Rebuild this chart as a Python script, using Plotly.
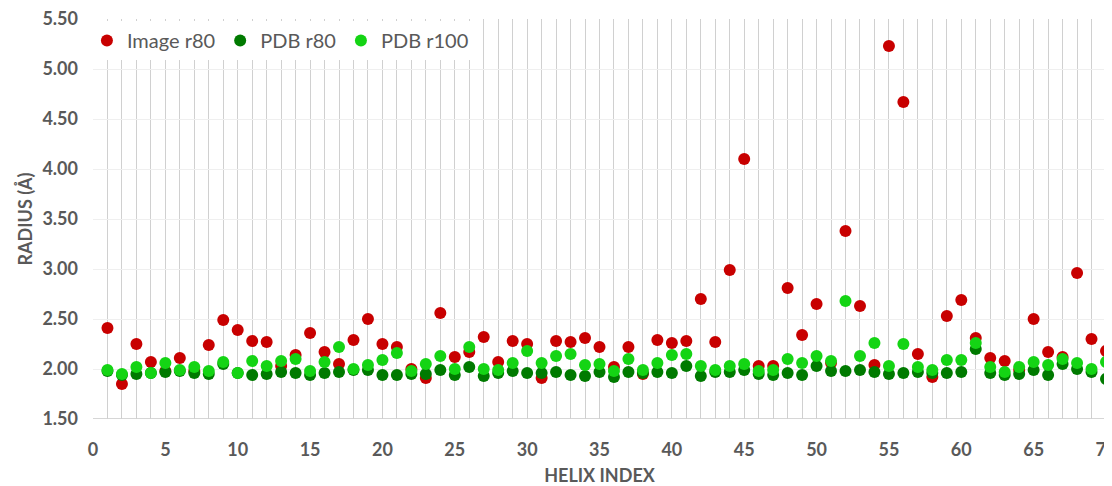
import plotly.graph_objects as go

helix_index = list(range(1, 71))

image_r80 = [2.41, 1.85, 2.25, 2.07, 1.98, 2.11, 1.98, 2.24, 2.49, 2.39,
             2.28, 2.27, 2.03, 2.14, 2.36, 2.17, 2.05, 2.29, 2.50, 2.25,
             2.22, 2.00, 1.91, 2.56, 2.12, 2.17, 2.32, 2.07, 2.28, 2.25,
             1.91, 2.28, 2.27, 2.31, 2.22, 2.02, 2.22, 1.95, 2.29, 2.26,
             2.28, 2.70, 2.27, 2.99, 4.10, 2.03, 2.03, 2.81, 2.34, 2.65,
             2.06, 3.38, 2.63, 2.04, 5.23, 4.67, 2.15, 1.92, 2.53, 2.69,
             2.31, 2.11, 2.08, 1.99, 2.50, 2.17, 2.12, 2.96, 2.30, 2.18]

pdb_r80 = [1.98, 1.94, 1.95, 1.96, 1.97, 1.98, 1.96, 1.95, 2.05, 1.96,
           1.94, 1.95, 1.97, 1.96, 1.94, 1.96, 1.97, 1.99, 1.99, 1.94,
           1.94, 1.95, 1.95, 1.99, 1.94, 2.02, 1.93, 1.96, 1.98, 1.96,
           1.96, 1.97, 1.94, 1.93, 1.97, 1.92, 1.97, 1.96, 1.97, 1.96,
           2.03, 1.93, 1.97, 1.97, 1.99, 1.95, 1.94, 1.96, 1.94, 2.03,
           1.98, 1.98, 1.99, 1.97, 1.95, 1.96, 1.97, 1.96, 1.96, 1.97,
           2.20, 1.96, 1.94, 1.95, 1.99, 1.94, 2.05, 2.00, 1.97, 1.90]

pdb_r100 = [1.99, 1.95, 2.02, 1.96, 2.06, 1.99, 2.02, 1.98, 2.07, 1.96,
            2.08, 2.03, 2.08, 2.10, 1.98, 2.07, 2.22, 2.00, 2.04, 2.09,
            2.16, 1.98, 2.05, 2.13, 2.00, 2.22, 2.00, 1.99, 2.06, 2.18,
            2.06, 2.13, 2.15, 2.04, 2.05, 1.98, 2.10, 1.99, 2.06, 2.14,
            2.15, 2.03, 1.99, 2.03, 2.05, 1.98, 1.99, 2.10, 2.06, 2.13,
            2.08, 2.68, 2.13, 2.26, 2.03, 2.25, 2.02, 1.99, 2.09, 2.09,
            2.26, 2.02, 1.97, 2.02, 2.07, 2.04, 2.10, 2.06, 2.00, 2.07]

series = [
    ("Image r80", image_r80, "#C80000"),
    ("PDB r80", pdb_r80, "#007A00"),
    ("PDB r100", pdb_r100, "#14D414"),
]

text_color = "#595959"
font_family = "Lato, 'Open Sans', sans-serif"

fig = go.Figure()
for name, vals, color in series:
    fig.add_trace(go.Scatter(
        x=helix_index, y=vals, name=name, mode="markers",
        marker=dict(size=12, color=color, line=dict(width=0)),
        cliponaxis=False,
    ))

# page body has an 8px default margin, so the figure is sized to compensate
fig.update_layout(
    width=1104, height=478,
    margin=dict(l=85, r=6, t=11, b=67, autoexpand=False),
    paper_bgcolor="white", plot_bgcolor="white",
    font=dict(family=font_family, color=text_color),
    showlegend=True,
    legend=dict(
        orientation="h", x=-0.006, y=0.995, xanchor="left", yanchor="top",
        bgcolor="white", font=dict(size=20, color=text_color),
        itemwidth=30, tracegroupgap=0,
    ),
    xaxis=dict(
        range=[0, 70], tick0=0, dtick=5, tickmode="linear",
        showgrid=True, gridcolor="#D0D0D0", gridwidth=1,
        minor=dict(dtick=1, tick0=0, showgrid=True, gridcolor="#D0D0D0", gridwidth=1),
        zeroline=False, showline=False,
        ticks="", ticklabelstandoff=18, automargin=False, ticklabeloverflow="allow",
        tickfont=dict(size=18, family=font_family, color=text_color, weight="bold"),
        title=dict(text="HELIX INDEX", standoff=11,
                   font=dict(size=18, family=font_family, color=text_color, weight="bold")),
    ),
    yaxis=dict(
        range=[1.5, 5.5], tick0=1.5, dtick=0.5, tickmode="linear", tickformat=".2f",
        showgrid=True, gridcolor="#EFEFEF", gridwidth=1,
        zeroline=False, showline=False,
        ticks="", ticklabelstandoff=14, automargin=False, ticklabeloverflow="allow",
        tickfont=dict(size=18, family=font_family, color=text_color, weight="bold"),
        title=dict(text="RADIUS (Å)", standoff=5,
                   font=dict(size=18, family=font_family, color=text_color, weight="bold")),
    ),
)

# bottom axis line
fig.add_shape(type="line", xref="paper", yref="y", x0=0, x1=1, y0=1.5, y1=1.5,
              line=dict(color="#C8C8C8", width=1.5), layer="below")

fig.write_html("out.html")
